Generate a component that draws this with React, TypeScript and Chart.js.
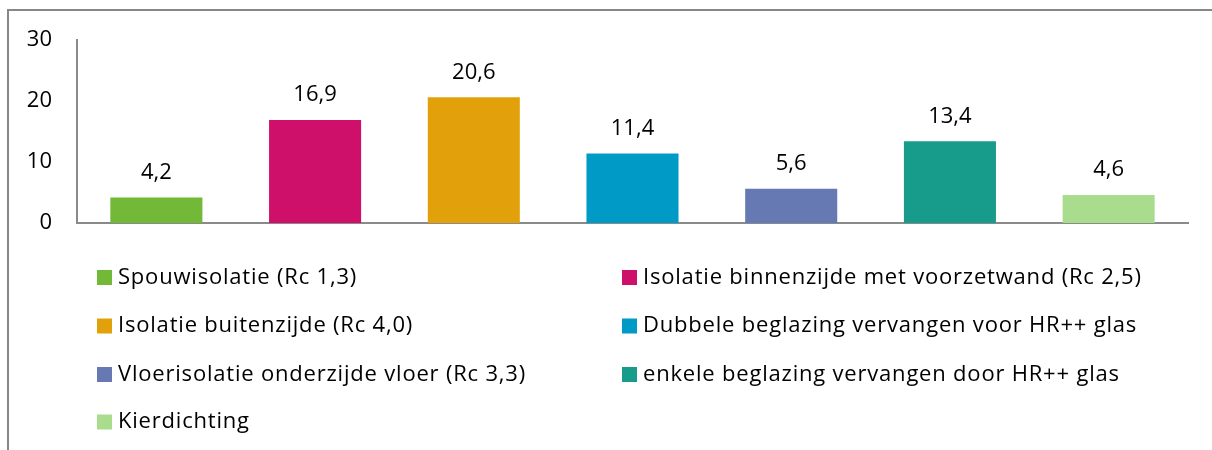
import React, { useEffect, useRef } from "react";
import { Chart, registerables } from "chart.js";

Chart.register(...registerables);

const categories = [
  "Spouwisolatie (Rc 1,3)",
  "Isolatie binnenzijde met voorzetwand (Rc 2,5)",
  "Isolatie buitenzijde (Rc 4,0)",
  "Dubbele beglazing vervangen voor HR++ glas",
  "Vloerisolatie onderzijde vloer (Rc 3,3)",
  "enkele beglazing vervangen door HR++ glas",
  "Kierdichting",
];
const values = [4.2, 16.9, 20.6, 11.4, 5.6, 13.4, 4.6];
const colors = ["#71B937", "#CF106B", "#E2A10A", "#009AC7", "#6679B2", "#179C8B", "#A9DC8D"];
const yTicks = [0, 10, 20, 30];

const FONT = "'Open Sans', sans-serif";
const FSIZE = 22;

const labelPlugin = {
  id: "valueLabels",
  afterDatasetsDraw(chart: any) {
    const ctx = chart.ctx;
    const meta = chart.getDatasetMeta(0);
    ctx.save();
    ctx.font = `${FSIZE}px ${FONT}`;
    ctx.fillStyle = "#000";
    ctx.textAlign = "center";
    ctx.textBaseline = "middle";
    meta.data.forEach((bar: any, i: number) => {
      const v = chart.data.datasets[0].data[i];
      ctx.fillText(String(v).replace(".", ","), bar.x, bar.y - 25);
    });
    ctx.restore();
  },
};

const legendPlugin = {
  id: "twoColLegend",
  afterDraw(chart: any) {
    const ctx = chart.ctx;
    const labels = chart.data.labels;
    const bg = chart.data.datasets[0].backgroundColor;
    const colX = [97, 622];
    const rowY = [277.5, 326, 374.5, 422];
    ctx.save();
    ctx.font = `${FSIZE}px ${FONT}`;
    try {
      (ctx as any).letterSpacing = "0.8px";
    } catch (e) {}
    ctx.textBaseline = "middle";
    ctx.textAlign = "left";
    labels.forEach((lab: string, i: number) => {
      const c = i % 2;
      const r = Math.floor(i / 2);
      const x = colX[c];
      const y = rowY[r];
      ctx.fillStyle = bg[i];
      ctx.fillRect(x, y - 7.5, 15, 15);
      ctx.fillStyle = "#000";
      ctx.fillText(lab, x + 21, y);
    });
    ctx.restore();
  },
};

export default function App() {
  const ref = useRef<HTMLCanvasElement>(null);
  useEffect(() => {
    const chart = new Chart(ref.current!, {
      type: "bar",
      data: {
        labels: categories,
        datasets: [
          {
            data: values,
            backgroundColor: colors,
            categoryPercentage: 1,
            barPercentage: 0.58,
          },
        ],
      },
      options: {
        animation: false,
        responsive: false,
        layout: { padding: { left: 0, top: 40, right: 24, bottom: 227 } },
        plugins: { legend: { display: false }, tooltip: { enabled: false } },
        scales: {
          x: {
            ticks: { display: false },
            grid: { display: false, drawTicks: false },
            border: { display: true, color: "#8a8a8a", width: 2 },
            afterFit: (s: any) => {
              s.height = 0;
            },
          },
          y: {
            min: 0,
            max: 30,
            afterBuildTicks: (s: any) => {
              s.ticks = yTicks.map((v) => ({ value: v }));
            },
            ticks: {
              padding: 25,
              color: "#000",
              font: { size: FSIZE, family: FONT },
            },
            grid: { display: false, drawTicks: false },
            border: { display: true, color: "#8a8a8a", width: 2 },
            afterFit: (s: any) => {
              s.width = 77;
            },
          },
        },
      },
      plugins: [labelPlugin, legendPlugin],
    });
    return () => chart.destroy();
  }, []);
  return (
    <div style={{ position: "fixed", left: 0, top: 0, width: 1212, height: 450, background: "#fff" }}>
      <div
        style={{
          position: "absolute",
          left: 7,
          top: 9,
          right: 0,
          bottom: 0,
          borderLeft: "2px solid #878787",
          borderTop: "2px solid #878787",
        }}
      />
      <canvas ref={ref} width={1212} height={450} style={{ position: "absolute", left: 0, top: 0 }} />
    </div>
  );
}
